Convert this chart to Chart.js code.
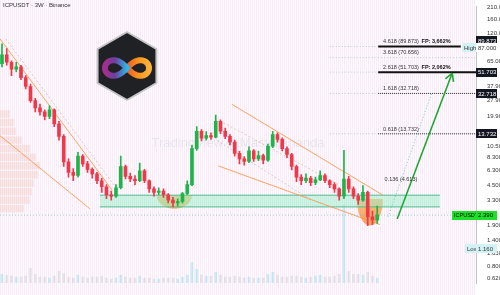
<!DOCTYPE html>
<html>
<head>
<meta charset="utf-8">
<script src="https://cdn.jsdelivr.net/npm/chart.js@4.4.1/dist/chart.umd.min.js"></script>
<style>
  html, body { margin: 0; padding: 0; background: #fff; }
  #wrap { width: 500px; height: 295px; }
</style>
</head>
<body>
<div id="wrap"><canvas id="myChart" width="500" height="295"></canvas></div>
<script>
// ICPUSDT, 3 week candles, oldest first (first bar starts 2021-08-23)
const opens = [62, 75, 64, 55, 58, 46, 38, 28, 24, 22,
  20, 23, 17, 13, 7.5, 6.0, 5.6, 8.5, 7.2, 6.4,
  5.8, 5.0, 4.4, 3.7, 3.6, 4.3, 6.8, 5.5, 5.2, 5.0,
  6.2, 5.0, 4.2, 3.9, 4.0, 3.7, 3.3, 3.1, 3.2, 3.8,
  4.6, 10.0, 14.5, 12.5, 13.2, 12.8, 18.0, 14.5, 13.0, 11.5,
  9.0, 8.0, 7.6, 9.5, 8.0, 8.6, 7.8, 10.5, 13.5, 12.2,
  10.0, 8.8, 6.8, 5.4, 5.0, 5.3, 4.8, 5.1, 5.6, 5.0,
  4.6, 4.2, 3.6, 5.2, 4.2, 3.6, 3.3, 3.9, 2.3, 2.15];
const highs = [95, 86, 66, 64, 60, 48, 40, 29.5, 26, 23,
  25, 23.5, 18, 13.5, 8.0, 6.5, 9.2, 8.8, 7.6, 6.6,
  6.0, 5.3, 4.6, 4.0, 4.6, 8.5, 7.0, 5.9, 5.6, 7.3,
  6.4, 5.1, 4.4, 4.3, 4.2, 3.8, 3.5, 3.4, 3.9, 5.0,
  10.8, 16.0, 15.0, 14.4, 14.0, 20.5, 18.5, 15.5, 13.5, 12.0,
  9.4, 8.4, 10.4, 9.8, 9.4, 8.9, 11.0, 14.5, 14.0, 12.6,
  10.4, 9.0, 7.0, 5.7, 5.8, 5.5, 5.4, 6.2, 5.8, 5.1,
  4.8, 4.3, 9.6, 5.5, 4.4, 3.8, 4.5, 4.0, 2.6, 2.9];
const lows = [58, 60, 48, 52, 44, 36, 27, 22, 20.5, 18.5,
  19, 16, 12, 6.8, 5.4, 5.0, 5.4, 6.8, 6.0, 5.3,
  4.7, 3.9, 3.4, 3.3, 3.5, 4.2, 5.2, 4.9, 4.6, 4.9,
  4.8, 3.9, 3.6, 3.7, 3.5, 3.1, 2.85, 2.9, 3.1, 3.7,
  4.5, 9.6, 11.8, 12.0, 12.2, 12.6, 13.8, 12.4, 10.8, 8.5,
  7.2, 7.0, 7.4, 7.6, 7.7, 7.2, 7.6, 10.2, 11.5, 9.5,
  8.2, 6.3, 4.9, 4.6, 4.8, 4.5, 4.6, 5.0, 4.8, 4.3,
  3.9, 3.3, 3.4, 3.9, 3.4, 3.0, 3.2, 1.9, 1.95, 2.0];
const closes = [75, 64, 55, 58, 46, 38, 28, 24, 22, 20,
  23, 17, 13, 7.5, 6.0, 5.6, 8.5, 7.2, 6.4, 5.8,
  5.0, 4.4, 3.7, 3.6, 4.3, 6.8, 5.5, 5.2, 5.0, 6.2,
  5.0, 4.2, 3.9, 4.0, 3.7, 3.3, 3.1, 3.2, 3.8, 4.6,
  10.0, 14.5, 12.5, 13.2, 12.8, 18.0, 14.5, 13.0, 11.5, 9.0,
  8.0, 7.6, 9.5, 8.0, 8.6, 7.8, 10.5, 13.5, 12.2, 10.0,
  8.8, 6.8, 5.4, 5.0, 5.3, 4.8, 5.1, 5.6, 5.0, 4.6,
  4.2, 3.6, 5.2, 4.2, 3.6, 3.3, 3.9, 2.3, 2.15, 2.39];
const volumes = [0.9, 0.8, 0.7, 0.6, 0.6, 0.7, 1.5, 0.9, 0.6, 0.6,
  0.5, 0.7, 1.2, 1.0, 0.6, 0.5, 0.8, 0.6, 0.5, 0.6,
  0.6, 0.7, 0.5, 0.4, 0.5, 0.8, 0.6, 0.5, 0.5, 0.7,
  0.5, 0.5, 0.4, 0.4, 0.5, 0.5, 0.5, 0.4, 0.6, 0.8,
  2.1, 1.4, 0.8, 0.7, 0.7, 1.1, 0.8, 0.6, 0.6, 0.7,
  0.6, 0.5, 0.6, 0.5, 0.5, 0.5, 0.9, 1.1, 0.8, 0.6,
  0.6, 0.7, 0.7, 0.6, 0.5, 0.6, 0.7, 0.8, 0.6, 0.6,
  0.7, 0.9, 8.0, 1.2, 0.9, 0.9, 0.8, 1.1, 0.7, 0.5];

// time axis labels, positions in bar units from the first bar
const xTickPos = [6.24, 14.86, 23.62, 32.24, 41.0, 49.67, 58.43, 67.05, 75.81, 84.43, 93.19];
const xTickLabels = ["2022", "Jul", "2023", "Jul", "2024", "Jul", "2025", "Jul", "2026", "Jul", "2027"];
const yTicks = [210, 160, 120, 65, 37.9, 27.9, 19.9, 10.5, 8.3, 6.3, 4.5, 3.3, 1.9, 1.4, 1.05, 0.8, 0.62];

// fib extension levels
const fibValues = [89.873, 70.656, 51.703, 32.718, 13.732, 4.613];
const fibLevels = ["4.618", "3.618", "2.618", "1.618", "0.618", "0.136"];
const fpTexts = ["FP: 3,662%", "", "FP: 2,062%", "", "", ""];

const lastPrice = 2.39;
const highPrice = 87.0;
const lowPrice = 1.16;

// support zone and the two rounded bottoms
const zone = { from: 20.6, to: 92.2, top: 3.67, bottom: 2.85 };
const bowls = [
  { from: 32.6, to: 40.0, top: 3.67, bottom: 2.74 },
  { from: 74.7, to: 80.2, top: 3.38, bottom: 1.91 },
];

// trend lines: [x0, price0, x1, price1]
const channelLines = [
  [-0.42, 105.8, 23.2, 4.08],
  [-0.42, 13.2, 18.5, 2.74],
  [48.4, 25.9, 80.2, 3.67],
  [45.5, 6.9, 79.6, 1.95],
];
const channelInner = [
  [0.8, 105.8, 24.4, 4.08],
  [45.9, 18.1, 71.2, 4.53],
  [45.3, 11.9, 64.8, 3.37],
];
const arrowPath = [83.2, 2.2, 94.8, 50.7];
const projection = [81.3, 2.31, 90.5, 33.3];

// left side volume profile (price bins)
const profilePrices = [21, 17.5, 14.5, 12, 10, 8.3, 6.9, 5.7, 4.75, 3.95, 3.3, 2.75];
const profileVol = [0.25, 0.35, 0.4, 0.55, 0.75, 0.9, 1.0, 0.95, 0.85, 0.8, 0.75, 0.6];

const upColor = "#1fb34a";
const downColor = "#f0384b";
const idx = closes.map((_, i) => i);
const candleColors = idx.map((i) => (closes[i] >= opens[i] ? upColor : downColor));
const volColors = idx.map((i) =>
  closes[i] >= opens[i] ? "rgba(110,210,220,0.35)" : "rgba(175,178,186,0.3)"
);

const font = '"Liberation Sans", Arial, sans-serif';

function seg(p, color, width, dash, order) {
  return {
    type: "line",
    data: [{ x: p[0], y: p[1] }, { x: p[2], y: p[3] }],
    borderColor: color,
    borderWidth: width,
    borderDash: dash || [],
    pointRadius: 0,
    fill: false,
    order: order || 3,
  };
}

const datasets = [
  {
    type: "bar",
    data: idx.map((i) => ({ x: i, y: [opens[i], closes[i]] })),
    backgroundColor: candleColors,
    barThickness: 3,
    maxBarThickness: 3,
    grouped: false,
    order: 0,
  },
  {
    type: "bar",
    data: idx.map((i) => ({ x: i, y: [lows[i], highs[i]] })),
    backgroundColor: candleColors,
    barThickness: 1,
    maxBarThickness: 1,
    grouped: false,
    order: 1,
  },
  {
    type: "bar",
    yAxisID: "yVol",
    data: idx.map((i) => ({ x: i, y: volumes[i] })),
    backgroundColor: volColors,
    barThickness: 2,
    maxBarThickness: 2,
    grouped: false,
    order: 9,
  },
  // support zone (fill between the two lines)
  Object.assign(seg([zone.from, zone.top, zone.to, zone.top], "#53b88f", 1), { order: 7 }),
  Object.assign(seg([zone.from, zone.bottom, zone.to, zone.bottom], "#53b88f", 1), {
    order: 7,
    fill: "-1",
    backgroundColor: "rgba(150,238,200,0.5)",
  }),
  seg([-0.42, lastPrice, 99.8, lastPrice], "rgba(90,180,205,0.6)", 1, [1, 2], 6),
];

channelLines.forEach((p) => datasets.push(seg(p, "rgba(245,150,70,0.85)", 1, [], 4)));
channelInner.forEach((p) => datasets.push(seg(p, "rgba(200,170,150,0.6)", 1, [2, 2], 4)));

// fib lines
fibValues.forEach((v, k) => {
  if (k === 5) return;
  datasets.push(seg([69, v, 79.2, v], "rgba(120,150,170,0.5)", 1, [1, 2], 5));
  if (k === 0) datasets.push(seg([79.2, v, 96.6, v], "#111", 2, [], 2));
  else if (k === 2) datasets.push(seg([79.2, v, 99.8, v], "#111", 2, [], 2));
  else if (k === 1) datasets.push(seg([79.2, v, 99.8, v], "rgba(120,150,170,0.5)", 1, [1, 2], 5));
  else datasets.push(seg([79.2, v, 99.8, v], "#222", 1, [1, 1], 2));
});
datasets.push(seg(projection, "rgba(90,200,190,0.9)", 1, [1, 2], 2));
datasets.push(seg(arrowPath, "#21a635", 1.6, [], 1));

function lobe(ctx, cx, cy, a, t0, t1, grad) {
  ctx.beginPath();
  let first = true;
  for (let t = t0; t <= t1 + 1e-6; t += 0.04) {
    const s = Math.sin(t), c = Math.cos(t), d = 1 + s * s;
    const px = cx + (a * c) / d, py = cy + (a * s * c) / d;
    if (first) { ctx.moveTo(px, py); first = false; } else ctx.lineTo(px, py);
  }
  ctx.strokeStyle = grad;
  ctx.lineWidth = 6;
  ctx.lineCap = "round";
  ctx.stroke();
}

function drawLogo(ctx) {
  const cx = 127, cy = 66, R = 34;
  ctx.save();
  ctx.beginPath();
  for (let k = 0; k < 6; k++) {
    const ang = (Math.PI / 180) * (60 * k - 90);
    const px = cx + R * Math.cos(ang), py = cy + R * Math.sin(ang);
    if (k) ctx.lineTo(px, py); else ctx.moveTo(px, py);
  }
  ctx.closePath();
  ctx.lineJoin = "round";
  ctx.fillStyle = "#202125";
  ctx.fill();
  ctx.lineWidth = 2;
  ctx.strokeStyle = "#c4c4c4";
  ctx.stroke();
  const a = 22, oy = cy + 2;
  const gl = ctx.createLinearGradient(cx - a, oy, cx, oy);
  gl.addColorStop(0, "#a52f8e");
  gl.addColorStop(0.45, "#6b3fa0");
  gl.addColorStop(1, "#2eb6ea");
  const gr = ctx.createLinearGradient(cx, oy, cx + a, oy);
  gr.addColorStop(0, "#f05a28");
  gr.addColorStop(0.5, "#f7931e");
  gr.addColorStop(1, "#fbb33b");
  lobe(ctx, cx, oy, a, -Math.PI / 2, Math.PI / 2, gr);
  lobe(ctx, cx, oy, a, Math.PI / 2, (3 * Math.PI) / 2, gl);
  ctx.restore();
}

function box(ctx, x, y, w, text, bg, fg, size) {
  ctx.fillStyle = bg;
  ctx.fillRect(x, Math.round(y - 4.5), w, 9);
  ctx.fillStyle = fg;
  ctx.font = (size || 6) + "px " + font;
  ctx.textAlign = "left";
  ctx.textBaseline = "middle";
  ctx.fillText(text, x + 2, y + 0.5);
}

const decor = {
  id: "decor",
  beforeDraw(chart) {
    const { ctx, chartArea: a } = chart;
    ctx.save();
    ctx.fillStyle = "#fff";
    ctx.fillRect(0, 0, chart.width, chart.height);
    ctx.fillStyle = "rgba(238,175,232,0.28)";
    for (let x = 0; x < a.right; x += 2) ctx.fillRect(x, 0, 1, chart.height);
    ctx.restore();
  },
  beforeDatasetsDraw(chart) {
    const { ctx, chartArea: a, scales } = chart;
    const xs = scales.x, ys = scales.y;
    ctx.save();
    // volume profile
    const maxW = 40;
    ctx.fillStyle = "rgba(235,185,170,0.3)";
    profilePrices.forEach((p, k) => {
      const y0 = ys.getPixelForValue(p * 1.095), y1 = ys.getPixelForValue(p / 1.095);
      ctx.fillRect(a.left, y0 + 0.5, maxW * profileVol[k], y1 - y0 - 1);
    });
    // watermark
    ctx.fillStyle = "rgba(140,150,170,0.18)";
    ctx.font = "13px " + font;
    ctx.textAlign = "center";
    ctx.textBaseline = "middle";
    ctx.fillText("TradingView \u00a9 MasterAnanda", 238, 143);
    // rounded bottoms
    bowls.forEach((b, k) => {
      const x0 = xs.getPixelForValue(b.from), x1 = xs.getPixelForValue(b.to);
      const yt = ys.getPixelForValue(b.top), yb = ys.getPixelForValue(b.bottom);
      const g = ctx.createLinearGradient(0, yt, 0, yb);
      g.addColorStop(0, k ? "rgba(250,170,80,0.75)" : "rgba(225,185,80,0.7)");
      g.addColorStop(1, k ? "rgba(240,140,60,0.8)" : "rgba(230,160,60,0.75)");
      ctx.fillStyle = g;
      ctx.beginPath();
      ctx.ellipse((x0 + x1) / 2, yt, (x1 - x0) / 2, yb - yt, 0, 0, Math.PI);
      ctx.closePath();
      ctx.fill();
    });
    ctx.restore();
  },
  afterDatasetsDraw(chart) {
    const { ctx, scales } = chart;
    const xs = scales.x, ys = scales.y;
    ctx.save();
    // arrow head
    const ax0 = xs.getPixelForValue(arrowPath[0]), ay0 = ys.getPixelForValue(arrowPath[1]);
    const ax1 = xs.getPixelForValue(arrowPath[2]), ay1 = ys.getPixelForValue(arrowPath[3]);
    const ang = Math.atan2(ay1 - ay0, ax1 - ax0);
    ctx.strokeStyle = "#21a635";
    ctx.lineWidth = 1.6;
    ctx.beginPath();
    [0.5, -0.5].forEach((d) => {
      ctx.moveTo(ax1, ay1);
      ctx.lineTo(ax1 - 9 * Math.cos(ang + d), ay1 - 9 * Math.sin(ang + d));
    });
    ctx.stroke();
    // fib labels
    ctx.textAlign = "center";
    ctx.textBaseline = "bottom";
    fibValues.forEach((v, k) => {
      const y = ys.getPixelForValue(v) - 2;
      ctx.fillStyle = "#333";
      ctx.font = "5.5px " + font;
      ctx.fillText(fibLevels[k] + " (" + v.toFixed(3) + ")", xs.getPixelForValue(84), y);
      if (fpTexts[k]) {
        ctx.fillStyle = "#111";
        ctx.font = "bold 5.5px " + font;
        ctx.fillText(fpTexts[k], xs.getPixelForValue(91.4), y);
      }
    });
    drawLogo(ctx);
    // title
    ctx.fillStyle = "#333";
    ctx.font = "6px " + font;
    ctx.textAlign = "left";
    ctx.textBaseline = "middle";
    ctx.fillText("ICPUSDT \u00b7 3W \u00b7 Binance", 3, 5);
    ctx.restore();
  },
  afterDraw(chart) {
    const { ctx, chartArea: a, scales } = chart;
    const ys = scales.y;
    const ax = a.right;
    ctx.save();
    [fibValues[0], fibValues[2], fibValues[3], fibValues[4]].forEach((v, k) => {
      const y = ys.getPixelForValue(v) - (k === 0 ? 6 : 0);
      box(ctx, ax, y, 21, v.toFixed(3), "#131722", "#fff");
    });
    const yh = ys.getPixelForValue(highPrice);
    box(ctx, ax - 14, yh, 14, "High", "#d3f2f5", "#333");
    box(ctx, ax, yh, 21, highPrice.toFixed(3), "#fff", "#333");
    const yl = ys.getPixelForValue(lowPrice);
    box(ctx, ax - 11, yl, 11, "Low", "#d3f2f5", "#333");
    box(ctx, ax, yl, 21, lowPrice.toFixed(3), "#d3f2f5", "#333");
    const yp = ys.getPixelForValue(lastPrice);
    box(ctx, ax - 24, yp, 24, "ICPUSDT", "#1ee02a", "#0a0a0a", 5.5);
    box(ctx, ax, yp, 21, lastPrice.toFixed(3), "#1ee02a", "#0a0a0a");
    ctx.restore();
  },
};

const ctx = document.getElementById("myChart").getContext("2d");
const myChart = new Chart(ctx, {
  type: "bar",
  data: { datasets: datasets },
  plugins: [decor],
  options: {
    responsive: false,
    devicePixelRatio: 1,
    animation: false,
    layout: { padding: 0 },
    plugins: { legend: { display: false }, tooltip: { enabled: false } },
    scales: {
      x: {
        type: "linear",
        offset: false,
        min: -0.42,
        max: 99.8,
        grid: { display: false },
        border: { display: false },
        afterBuildTicks: (scale) => {
          scale.ticks = xTickPos.map((v) => ({ value: v }));
        },
        afterFit: (scale) => {
          scale.height = 12;
        },
        ticks: {
          autoSkip: false,
          maxRotation: 0,
          padding: 3,
          color: "#333",
          font: (c) => ({
            family: font,
            size: 6,
            weight: c.index % 2 === 0 ? "bold" : "normal",
          }),
          callback: (value, index) => xTickLabels[index],
        },
      },
      y: {
        type: "logarithmic",
        position: "right",
        min: 0.555,
        max: 211.7,
        grid: { display: false },
        border: { display: true, color: "#c2c2c2" },
        afterBuildTicks: (scale) => {
          scale.ticks = yTicks.map((v) => ({ value: v }));
        },
        afterFit: (scale) => {
          scale.width = 24;
        },
        ticks: {
          autoSkip: false,
          padding: 3,
          color: "#333",
          font: { family: font, size: 6 },
          callback: (value) => Number(value).toFixed(3),
        },
      },
      yVol: {
        type: "linear",
        display: false,
        min: 0,
        max: 28.3,
      },
    },
  },
});
</script>
</body>
</html>
